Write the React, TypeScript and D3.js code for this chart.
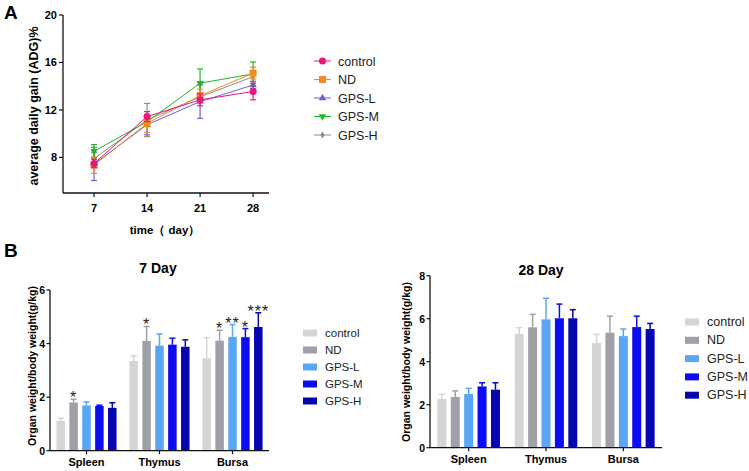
import React from "react";
import * as d3 from "d3";

const groups = ["control", "ND", "GPS-L", "GPS-M", "GPS-H"];
const days = [7, 14, 21, 28];
const adgControl = [7.49, 11.44, 12.85, 13.55];
const adgControlErr = [0.35, 0.42, 0.5, 0.7];
const adgND = [7.35, 10.87, 13.2, 15.1];
const adgNDErr = [0.7, 0.75, 0.55, 0.5];
const adgGPSL = [7.45, 10.75, 12.7, 14.1];
const adgGPSLErr = [1.4, 0.85, 1.4, 0.3];
const adgGPSM = [8.52, 11.0, 14.25, 15.04];
const adgGPSMErr = [0.56, 0.4, 1.2, 1.0];
const adgGPSH = [7.9, 11.15, 13.1, 14.8];
const adgGPSHErr = [0.5, 1.4, 0.3, 0.4];
const adgTicks = [8, 12, 16, 20];

const organs = ["Spleen", "Thymus", "Bursa"];
// 7 Day values per group, ordered Spleen, Thymus, Bursa
const d7Means = [
  [1.12, 3.35, 3.45],
  [1.8, 4.1, 4.11],
  [1.69, 3.92, 4.25],
  [1.67, 3.96, 4.24],
  [1.6, 3.88, 4.62],
];
const d7Err = [
  [0.09, 0.19, 0.77],
  [0.12, 0.54, 0.39],
  [0.13, 0.44, 0.46],
  [0.03, 0.24, 0.32],
  [0.19, 0.26, 0.53],
];
const d7Stars = [
  ["", "", ""],
  ["*", "*", "*"],
  ["", "", "**"],
  ["", "", "*"],
  ["", "", "***"],
];
const d7Ticks = [0, 2, 4, 6];
const d28Means = [
  [2.26, 5.29, 4.87],
  [2.36, 5.6, 5.35],
  [2.5, 5.97, 5.19],
  [2.85, 6.02, 5.61],
  [2.7, 6.02, 5.52],
];
const d28Err = [
  [0.22, 0.29, 0.4],
  [0.28, 0.6, 0.77],
  [0.26, 0.98, 0.33],
  [0.17, 0.66, 0.51],
  [0.32, 0.4, 0.26],
];
const d28Ticks = [0, 2, 4, 6, 8];

const lineColors = ["#e8197d", "#f5891f", "#6a62e0", "#22b522", "#8c8c8c"];
const barColors = ["#d5d5d5", "#a0a0a8", "#5aa6f5", "#0c0cf2", "#0606b0"];
const FONT = "Arial, 'Liberation Sans', sans-serif";

const lineSeries = [
  { name: groups[0], v: adgControl, e: adgControlErr, sym: d3.symbolCircle, size: 40, c: lineColors[0] },
  { name: groups[1], v: adgND, e: adgNDErr, sym: d3.symbolSquare, size: 48, c: lineColors[1] },
  { name: groups[2], v: adgGPSL, e: adgGPSLErr, sym: d3.symbolTriangle, size: 24, c: lineColors[2] },
  { name: groups[3], v: adgGPSM, e: adgGPSMErr, sym: d3.symbolTriangle, size: 24, c: lineColors[3], rot: 180 },
  { name: groups[4], v: adgGPSH, e: adgGPSHErr, sym: d3.symbolDiamond, size: 14, c: lineColors[4] },
];

function PanelA() {
  const x = d3.scaleLinear().domain([2.9, 30.1]).range([63, 269]);
  const y = d3.scaleLinear().domain([5, 20]).range([193, 15]);
  const line = d3.line<number>().x((_, i) => x(days[i])).y((d) => y(d));
  const order = [4, 2, 3, 1, 0];
  return (
    <g>
      <text x={4} y={19} fontSize={19} fontWeight="bold" fontFamily={FONT}>A</text>
      {order.map((si) => {
        const s = lineSeries[si];
        return (
          <g key={s.name}>
            <path d={line(s.v) || ""} fill="none" stroke={s.c} strokeWidth={1} />
            {s.v.map((v, i) => (
              <g key={i} stroke={s.c} strokeWidth={1.2}>
                <line x1={x(days[i])} x2={x(days[i])} y1={y(v - s.e[i])} y2={y(v + s.e[i])} />
                <line x1={x(days[i]) - 3} x2={x(days[i]) + 3} y1={y(v - s.e[i])} y2={y(v - s.e[i])} />
                <line x1={x(days[i]) - 3} x2={x(days[i]) + 3} y1={y(v + s.e[i])} y2={y(v + s.e[i])} />
              </g>
            ))}
            {s.v.map((v, i) => (
              <path
                key={"m" + i}
                d={d3.symbol().type(s.sym).size(s.size)() || ""}
                transform={`translate(${x(days[i])},${y(v)}) rotate(${s.rot || 0})`}
                fill={s.c}
              />
            ))}
          </g>
        );
      })}
      <line x1={63} x2={63} y1={15} y2={193} stroke="#111" strokeWidth={1.3} />
      <line x1={63} x2={269} y1={193} y2={193} stroke="#111" strokeWidth={1.3} />
      {adgTicks.map((t) => (
        <g key={t}>
          <line x1={59} x2={63} y1={y(t)} y2={y(t)} stroke="#111" strokeWidth={1.2} />
          <text x={57} y={y(t) + 4} textAnchor="end" fontSize={11} fontWeight="bold" fontFamily={FONT}>{t}</text>
        </g>
      ))}
      {days.map((d) => (
        <g key={d}>
          <line x1={x(d)} x2={x(d)} y1={193} y2={197} stroke="#111" strokeWidth={1.2} />
          <text x={x(d)} y={212} textAnchor="middle" fontSize={11} fontWeight="bold" fontFamily={FONT}>{d}</text>
        </g>
      ))}
      <text x={165} y={234} textAnchor="middle" fontSize={11.5} fontWeight="bold" fontFamily={FONT}>time（ day）</text>
      <text transform="translate(38,106) rotate(-90)" textAnchor="middle" fontSize={12.5} fontWeight="bold" fontFamily={FONT}>
        average daily gain (ADG)%
      </text>
      {lineSeries.map((s, i) => {
        const ly = 61 + i * 18.5;
        return (
          <g key={s.name}>
            <line x1={314} x2={331} y1={ly} y2={ly} stroke={s.c} strokeWidth={1} />
            <path d={d3.symbol().type(s.sym).size(s.size)() || ""} transform={`translate(322.5,${ly}) rotate(${s.rot || 0})`} fill={s.c} />
            <text x={338} y={ly + 4.5} fontSize={12.5} fontFamily={FONT} fill="#222">{s.name}</text>
          </g>
        );
      })}
    </g>
  );
}

function BarPanel(props: {
  means: number[][]; errs: number[][]; stars?: string[][]; ticks: number[];
  x0: number; x1: number; yTop: number; yBot: number; ymax: number;
  title: string; titleX: number; titleY: number; ylabX: number; ylabY: number;
  legX: number; legY: number; legStep: number; legFont: number; barW: number; barStep: number;
}) {
  const p = props;
  const xb = d3.scaleBand().domain(organs).range([p.x0, p.x1]);
  const y = d3.scaleLinear().domain([0, p.ymax]).range([p.yBot, p.yTop]);
  const inner = d3.scaleBand().domain(groups).range([-2 * p.barStep - p.barStep / 2, 3 * p.barStep - p.barStep / 2]);
  return (
    <g>
      <text x={p.titleX} y={p.titleY} textAnchor="middle" fontSize={14} fontWeight="bold" fontFamily={FONT}>{p.title}</text>
      {groups.map((g, gi) =>
        organs.map((o, oi) => {
          const cx = (xb(o) || 0) + xb.bandwidth() / 2 + (inner(g) || 0) + p.barStep / 2;
          const v = p.means[gi][oi];
          const e = p.errs[gi][oi];
          const star = p.stars ? p.stars[gi][oi] : "";
          return (
            <g key={g + o}>
              <rect x={cx - p.barW / 2} y={y(v)} width={p.barW} height={p.yBot - y(v)} fill={barColors[gi]} />
              <line x1={cx} x2={cx} y1={y(v)} y2={y(v + e)} stroke={barColors[gi]} strokeWidth={1.5} />
              <line x1={cx - 3} x2={cx + 3} y1={y(v + e)} y2={y(v + e)} stroke={barColors[gi]} strokeWidth={1.5} />
              {star && (
                <text x={cx} y={y(v + e) + 4} textAnchor="middle" fontSize={16} fontFamily={FONT} fill="#222" letterSpacing={1}>{star}</text>
              )}
            </g>
          );
        })
      )}
      <line x1={p.x0} x2={p.x0} y1={p.yTop} y2={p.yBot} stroke="#111" strokeWidth={1.3} />
      <line x1={p.x0} x2={p.x1} y1={p.yBot} y2={p.yBot} stroke="#111" strokeWidth={1.3} />
      {p.ticks.map((t) => (
        <g key={t}>
          <line x1={p.x0 - 3.5} x2={p.x0} y1={y(t)} y2={y(t)} stroke="#111" strokeWidth={1.2} />
          <text x={p.x0 - 5} y={y(t) + 4} textAnchor="end" fontSize={10.5} fontWeight="bold" fontFamily={FONT}>{t}</text>
        </g>
      ))}
      {organs.map((o) => {
        const cx = (xb(o) || 0) + xb.bandwidth() / 2;
        return (
          <g key={o}>
            <line x1={cx} x2={cx} y1={p.yBot} y2={p.yBot + 3.5} stroke="#111" strokeWidth={1.2} />
            <text x={cx} y={p.yBot + 15} textAnchor="middle" fontSize={11} fontWeight="bold" fontFamily={FONT}>{o}</text>
          </g>
        );
      })}
      <text transform={`translate(${p.ylabX},${p.ylabY}) rotate(-90)`} textAnchor="middle" fontSize={10.5} fontWeight="bold" fontFamily={FONT}>
        Organ weight/body weight(g/kg)
      </text>
      {groups.map((g, i) => {
        const ly = p.legY + i * p.legStep;
        return (
          <g key={g}>
            <rect x={p.legX} y={ly - 3.5} width={14} height={7} fill={barColors[i]} />
            <text x={p.legX + 22} y={ly + 4} fontSize={p.legFont} fontFamily={FONT} fill="#222">{g}</text>
          </g>
        );
      })}
    </g>
  );
}

export default function App() {
  return (
    <svg width={749} height={471} style={{ position: "absolute", left: 0, top: 0, background: "#fff" }}>
      <rect width={749} height={471} fill="#fff" />
      <PanelA />
      <text x={4} y={257} fontSize={19} fontWeight="bold" fontFamily={FONT}>B</text>
      <BarPanel
        means={d7Means} errs={d7Err} stars={d7Stars} ticks={d7Ticks}
        x0={50} x1={269} yTop={290} yBot={450.7} ymax={6}
        title="7 Day" titleX={158} titleY={273} ylabX={36} ylabY={366}
        legX={303} legY={333} legStep={17} legFont={11.5} barW={8.5} barStep={12.9}
      />
      <BarPanel
        means={d28Means} errs={d28Err} ticks={d28Ticks}
        x0={430} x1={662} yTop={275.7} yBot={447.7} ymax={8}
        title="28 Day" titleX={541} titleY={275} ylabX={410} ylabY={362}
        legX={685} legY={322} legStep={18.3} legFont={12.5} barW={9} barStep={13.4}
      />
    </svg>
  );
}
